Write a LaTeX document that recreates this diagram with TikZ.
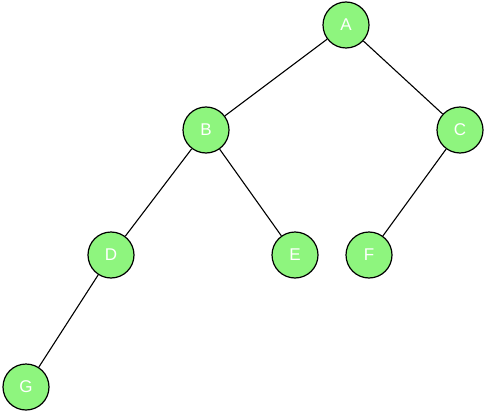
\documentclass[tikz,border=0pt]{standalone}
\usepackage{fontspec}
\setsansfont{Liberation Sans}
\usetikzlibrary{positioning}
\definecolor{leafgreen}{RGB}{142,245,126}

\begin{document}
\begin{tikzpicture}[
    x=1pt, y=-1pt,
    treenode/.style={
        circle,
        draw,
        line width=1.2pt,
        fill=leafgreen,
        text=white,
        minimum size=46pt,
        inner sep=0pt,
        font=\sffamily\fontsize{17}{17}\selectfont
    },
    line/.style={line width=1.1pt}
]
    \useasboundingbox (0,0) rectangle (486,414);

    \node[treenode] (a) at (346,25) {A};
    \node[treenode] (b) at (206,130) {B};
    \node[treenode] (c) at (460,130) {C};
    \node[treenode] (d) at (111,255) {D};
    \node[treenode] (e) at (295,255) {E};
    \node[treenode] (f) at (369,255) {F};
    \node[treenode] (g) at (26,387) {G};

    \draw[line] (a) -- (b);
    \draw[line] (a) -- (c);
    \draw[line] (b) -- (d);
    \draw[line] (b) -- (e);
    \draw[line] (c) -- (f);
    \draw[line] (d) -- (g);
\end{tikzpicture}
\end{document}
